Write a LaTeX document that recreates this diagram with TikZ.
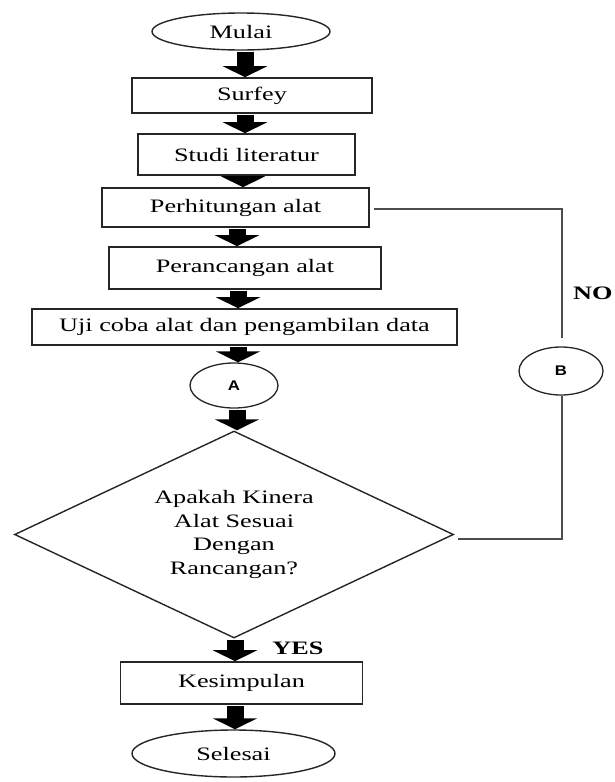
\documentclass[tikz,border=0pt]{standalone}
\usepackage{fontspec}
\setmainfont{Liberation Serif}[FakeStretch=1.38]
\newfontfamily\abfont{Liberation Sans}[FakeStretch=1.2]
\usetikzlibrary{shapes.geometric,arrows.meta}
\begin{document}
\begin{tikzpicture}[x=1pt,y=-1pt,
  txt/.style={font=\fontsize{19}{23.5}\selectfont},
  box/.style={txt, draw=black!85, line width=1.6pt, rectangle, inner sep=0pt},
  term/.style={txt, draw=black!85, line width=1.4pt, ellipse, inner sep=0pt},
  conn/.style={draw=black!85, line width=1.3pt, ellipse, inner sep=0pt, font=\abfont\bfseries\fontsize{14}{17}\selectfont},
  dec/.style={txt, draw=black!85, line width=1.4pt, diamond, shape aspect=2.12, inner sep=0pt, align=center},
  blk/.style={line width=17pt, -{Triangle[length=11pt,width=44pt]}, black, shorten <=1pt},
  link/.style={draw=gray!60!black, line width=1.4pt},
]
\useasboundingbox (0,0) rectangle (614,782);

\node[term, minimum width=178pt, minimum height=37pt] (mulai) at (241,31.5) {Mulai};
\node[box, minimum width=240pt, minimum height=35pt] (surfey) at (252,95.5) {Surfey};
\node[box, minimum width=217pt, minimum height=41pt] (studi) at (246.5,154.5) {Studi literatur};
\node[box, minimum width=267pt, minimum height=39pt] (perh) at (235.5,207.5) {Perhitungan alat};
\node[box, minimum width=272pt, minimum height=42pt] (peran) at (245,268) {Perancangan alat};
\node[box, minimum width=425pt, minimum height=36pt] (uji) at (244.5,327) {Uji coba alat dan pengambilan data};
\node[conn, minimum width=88pt, minimum height=45pt] (A) at (234,385.5) {A};
\node[dec, minimum width=439pt, minimum height=207pt] (dec) at (234,534.5) {Apakah Kinera\\Alat Sesuai\\Dengan\\Rancangan?};
\node[box, minimum width=242pt, minimum height=42pt] (kes) at (241.5,683) {Kesimpulan};
\node[term, minimum width=203pt, minimum height=47pt] (sel) at (233.5,753.5) {Selesai};
\node[conn, minimum width=84pt, minimum height=48pt] (B) at (561,371) {B};
\node[txt, font=\bfseries\fontsize{19}{22}\selectfont] (yes) at (298,648) {YES};
\node[txt, font=\bfseries\fontsize{19}{22}\selectfont, anchor=west, inner sep=0pt] (no) at (573,293) {NO};

\draw[blk] ([xshift=4pt]mulai.south) -- ([xshift=-7pt]surfey.north);
\draw[blk] ([xshift=-7pt]surfey.south) -- ([xshift=-1.5pt]studi.north);
\draw[blk] ([xshift=-3.5pt]studi.south) -- ([xshift=7.5pt]perh.north);
\draw[blk] ([xshift=1.5pt]perh.south) -- ([xshift=-8pt]peran.north);
\draw[blk] ([xshift=-7pt]peran.south) -- ([xshift=-6.5pt]uji.north);
\draw[blk] ([xshift=-6.5pt]uji.south) -- ([xshift=4pt]A.north);
\draw[blk] ([xshift=3pt]A.south) -- ([xshift=3pt]dec.north);
\draw[blk] ([xshift=1pt]dec.south) -- ([xshift=-6.5pt]kes.north);
\draw[blk] ([xshift=-6.5pt]kes.south) -- ([xshift=1.5pt]sel.north);

\coordinate (c1) at (562,209);
\draw[link] ([xshift=4pt,yshift=-1.5pt]perh.east) -- (c1) -- ([yshift=8pt]B.north -| c1);
\draw[link] (B.south -| c1) |- ([xshift=4pt,yshift=-4.5pt]dec.east);
\end{tikzpicture}
\end{document}
